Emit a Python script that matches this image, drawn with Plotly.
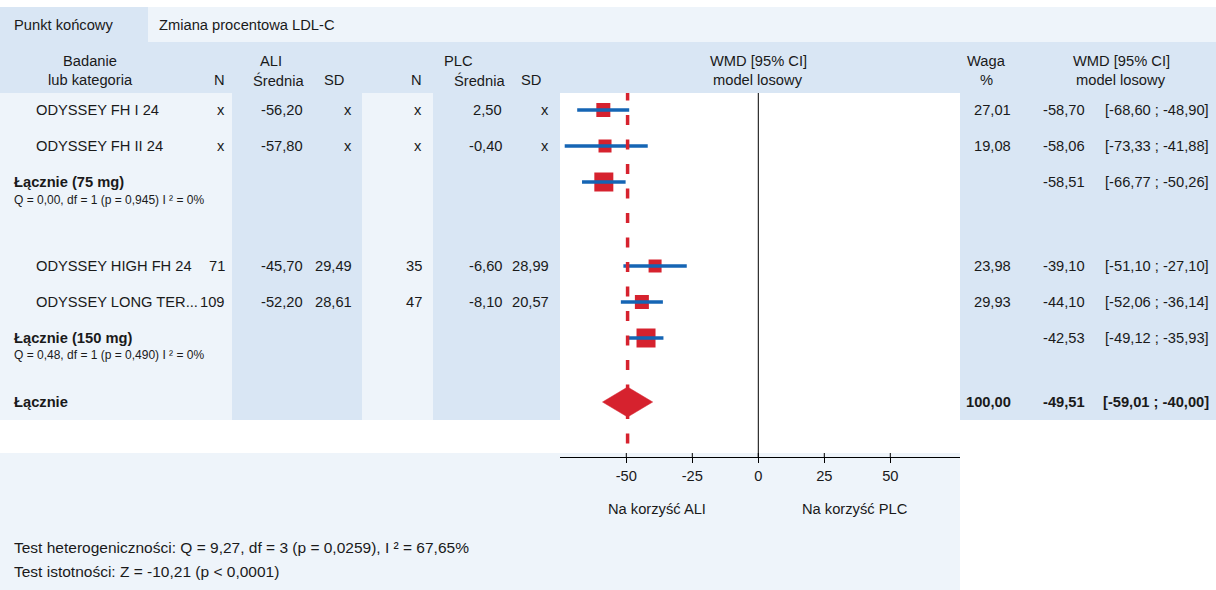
import plotly.graph_objects as go

# ---------------- data ----------------
studies = ["ODYSSEY FH I 24", "ODYSSEY FH II 24", "ODYSSEY HIGH FH 24", "ODYSSEY LONG TER..."]
ali_n = ["x", "x", "71", "109"]
ali_mean = ["-56,20", "-57,80", "-45,70", "-52,20"]
ali_sd = ["x", "x", "29,49", "28,61"]
plc_n = ["x", "x", "35", "47"]
plc_mean = ["2,50", "-0,40", "-6,60", "-8,10"]
plc_sd = ["x", "x", "28,99", "20,57"]
weights = [27.01, 19.08, 23.98, 29.93]
wmd = [-58.70, -58.06, -39.10, -44.10]
wmd_lo = [-68.60, -73.33, -51.10, -52.06]
wmd_hi = [-48.90, -41.88, -27.10, -36.14]

sub_labels = ["Łącznie (75 mg)", "Łącznie (150 mg)"]
sub_het = ["Q = 0,00, df = 1 (p = 0,945) I ² = 0%", "Q = 0,48, df = 1 (p = 0,490) I ² = 0%"]
sub_wmd = [-58.51, -42.53]
sub_lo = [-66.77, -49.12]
sub_hi = [-50.26, -35.93]

tot_label = "Łącznie"
tot_weight = 100.00
tot_wmd = -49.51
tot_lo = -59.01
tot_hi = -40.00

tick_vals = [-50, -25, 0, 25, 50]
endpoint_label = "Punkt końcowy"
endpoint_value = "Zmiana procentowa LDL-C"
favours = ["Na korzyść ALI", "Na korzyść PLC"]
het_text = "Test heterogeniczności: Q = 9,27, df = 3 (p = 0,0259), I ² = 67,65%"
sig_text = "Test istotności: Z = -10,21 (p < 0,0001)"

# ---------------- layout constants (pixels) ----------------
W, H = 1216, 590
study_rows = [110, 146, 266, 302]
sub_rows = [182, 338]
sub_het_rows = [200, 355]
tot_row = 402
study_sizes = [14, 13, 13, 14]
sub_sizes = [19, 19]

BLUE = "#d9e6f4"
LIGHT = "#eef4fa"
RED = "#d6222e"
CIBLUE = "#1565b4"
TXT = "#1a1a1a"
FONT = "Liberation Sans, Arial, sans-serif"
FS = 14.7


def fmt(v):
    return f"{v:.2f}".replace(".", ",")


fig = go.Figure()

# ---------- background cells ----------
def rect(x0, x1, y0, y1, color):
    fig.add_shape(type="rect", xref="paper", yref="y", x0=x0 / W, x1=x1 / W, y0=y0, y1=y1,
                  fillcolor=color, line=dict(width=0), layer="below")

rect(0, 148, 7, 42, BLUE)
rect(148, W, 7, 42, LIGHT)
rect(0, W, 42, 93, BLUE)
rect(0, 232, 93, 420, LIGHT)
rect(232, 362, 93, 420, BLUE)
rect(362, 433, 93, 420, LIGHT)
rect(433, 560, 93, 420, BLUE)
rect(960, W, 93, 420, BLUE)
rect(0, 960, 453, 590, LIGHT)

# ---------- text helper ----------
def txt(x, y, s, anchor="left", bold=False, size=FS):
    fig.add_annotation(xref="paper", yref="y", x=x / W, y=y, text=f"<b>{s}</b>" if bold else s,
                       showarrow=False, xanchor=anchor, yanchor="middle",
                       font=dict(family=FONT, size=size, color=TXT))

# header
txt(12, 25, endpoint_label)
txt(157, 25, endpoint_value)
H1, H2 = 61, 80
txt(90, H1, "Badanie", "center")
txt(90, H2, "lub kategoria", "center")
txt(227, H2, "N", "right")
txt(271, H1, "ALI", "center")
txt(278, H2, "Średnia", "center")
txt(334, H2, "SD", "center")
txt(424, H2, "N", "right")
txt(458, H1, "PLC", "center")
txt(479, H2, "Średnia", "center")
txt(531, H2, "SD", "center")
txt(758, H1, "WMD [95% CI]", "center")
txt(758, H2, "model losowy", "center")
txt(986, H1, "Waga", "center")
txt(986, H2, "%", "center")
txt(1121, H1, "WMD [95% CI]", "center")
txt(1121, H2, "model losowy", "center")

# study rows
for i, y in enumerate(study_rows):
    txt(34, y, studies[i])
    txt(227, y, ali_n[i], "right")
    txt(305, y, ali_mean[i], "right")
    txt(354, y, ali_sd[i], "right")
    txt(424, y, plc_n[i], "right")
    txt(504, y, plc_mean[i], "right")
    txt(551, y, plc_sd[i], "right")
    txt(1013, y, fmt(weights[i]), "right")
    txt(1087, y, fmt(wmd[i]), "right")
    txt(1211, y, f"[{fmt(wmd_lo[i])} ; {fmt(wmd_hi[i])}]", "right")

# subgroup rows
for i, y in enumerate(sub_rows):
    txt(12, y, sub_labels[i], bold=True)
    txt(12, sub_het_rows[i], sub_het[i], size=12)
    txt(1087, y, fmt(sub_wmd[i]), "right")
    txt(1211, y, f"[{fmt(sub_lo[i])} ; {fmt(sub_hi[i])}]", "right")

# total row
txt(12, tot_row, tot_label, bold=True)
txt(1013, tot_row, fmt(tot_weight), "right", bold=True)
txt(1087, tot_row, fmt(tot_wmd), "right", bold=True)
txt(1211, tot_row, f"[{fmt(tot_lo)} ; {fmt(tot_hi)}]", "right", bold=True)

# bottom texts
txt(657, 509, favours[0], "center")
txt(855, 509, favours[1], "center")
txt(12, 547, het_text, size=15.5)
txt(12, 571, sig_text, size=15.5)

# ---------- forest plot ----------
# zero line
fig.add_trace(go.Scatter(x=[0, 0], y=[93, 457], mode="lines",
                         line=dict(color="black", width=1), hoverinfo="skip"))
# squares
fig.add_trace(go.Scatter(x=wmd + sub_wmd, y=study_rows + sub_rows, mode="markers",
                         marker=dict(symbol="square", size=study_sizes + sub_sizes, color=RED,
                                     opacity=1, line=dict(width=0)), hoverinfo="skip"))
# CI lines
cx, cy = [], []
for lo, hi, y in zip(wmd_lo + sub_lo, wmd_hi + sub_hi, study_rows + sub_rows):
    cx += [lo, hi, None]
    cy += [y, y, None]
fig.add_trace(go.Scatter(x=cx, y=cy, mode="lines", line=dict(color=CIBLUE, width=3.5),
                         hoverinfo="skip"))
# pooled dashed line
fig.add_trace(go.Scatter(x=[tot_wmd, tot_wmd], y=[443.5, 93], mode="lines",
                         line=dict(color=RED, width=3.5, dash="10px,14.5px"), hoverinfo="skip"))
# diamond
fig.add_trace(go.Scatter(x=[tot_lo, tot_wmd, tot_hi, tot_wmd, tot_lo],
                         y=[tot_row, tot_row - 15, tot_row, tot_row + 15, tot_row],
                         mode="lines", fill="toself", fillcolor=RED,
                         line=dict(color=RED, width=0.5), hoverinfo="skip"))
# upper halves of crossing ticks
tx, ty = [], []
for t in tick_vals:
    tx += [t, t, None]
    ty += [453, 457, None]
fig.add_trace(go.Scatter(x=tx, y=ty, mode="lines", line=dict(color="black", width=1),
                         hoverinfo="skip"))

x0px, x1px, zero_px, ppu = 560, 960, 758.3, 2.64
fig.update_layout(
    width=W, height=H,
    margin=dict(l=0, r=0, t=0, b=0),
    paper_bgcolor="white", plot_bgcolor="rgba(0,0,0,0)",
    showlegend=False,
    xaxis=dict(domain=[x0px / W, x1px / W],
               range=[(x0px - zero_px) / ppu, (x1px - zero_px) / ppu],
               anchor="free", position=1 - 457 / H,
               showline=True, linecolor="black", linewidth=1,
               tickvals=tick_vals, ticktext=[str(t) for t in tick_vals],
               ticks="outside", ticklen=5, tickcolor="black", tickwidth=1,
               tickfont=dict(family=FONT, size=FS, color=TXT),
               showgrid=False, zeroline=False, fixedrange=True),
    yaxis=dict(domain=[0, 1], range=[H, 0], visible=False, fixedrange=True),
)

fig.write_html("out.html", config={"displayModeBar": False},
               post_script="document.body.style.margin='0';document.body.style.overflow='hidden';")
